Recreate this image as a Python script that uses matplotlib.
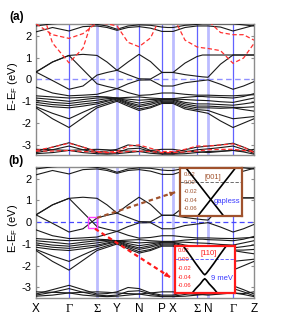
import matplotlib
matplotlib.use("Agg")
import matplotlib.pyplot as plt
from matplotlib.patches import Rectangle

plt.rcParams['font.family'] = ['Liberation Sans', 'DejaVu Sans']
plt.rcParams['axes.unicode_minus'] = False
plt.rcParams['mathtext.fontset'] = 'custom'
plt.rcParams['mathtext.rm'] = 'Liberation Sans'

# k path: high-symmetry points and the sample points between them
knodes = [0, 33, 61, 81, 103, 126, 137, 161, 172, 197, 218]
klabels = ['X', 'Γ', 'Σ', 'Y', 'N', 'P', 'X', 'Σ', 'N', 'Γ', 'Z']
kwide = [False, False, True, True, False, False, True, False, True, False, False]
kgrid = [0, 16.5, 33, 47, 61, 71, 81, 92, 103, 114.5, 126, 131.5, 137,
         149, 161, 166.5, 172, 184.5, 197, 207.5, 218]

# black bands (eV), read at kgrid
t2 = [2.45, 2.55, 2.60, 2.58, 2.52, 2.45, 2.30, 2.45, 2.50, 2.48, 2.40, 2.38, 2.38, 2.48, 2.52, 2.55, 2.55, 2.55, 2.55, 2.50, 2.45]
t1 = [2.18, 2.38, 2.22, 2.42, 2.45, 2.38, 2.25, 2.38, 2.42, 2.35, 2.20, 2.20, 2.20, 2.38, 2.45, 2.45, 2.45, 2.40, 2.22, 2.35, 2.48]
c1 = [0.34, 0.80, 1.10, 1.15, 1.10, 0.80, 0.42, 0.22, 0.03, 0.02, 0.32, 0.32, 0.32, 0.75, 1.05, 1.12, 1.12, 1.12, 1.12, 1.12, 1.12]
c2 = [0.34, 0.80, 1.10, 0.45, -0.20, -0.32, -0.42, -0.60, -0.73, -0.70, -0.62, -0.62, -0.62, -0.68, -0.72, -0.72, -0.72, -0.74, -0.75, -0.72, -0.70]
v1 = [0.34, -0.05, -0.45, -0.30, 0.20, 0.32, 0.42, 0.80, 1.15, 0.82, 0.32, 0.32, 0.32, 0.22, 0.15, 0.12, 0.10, 0.70, 1.12, 1.12, 1.12]
v2 = [-0.35, -0.62, -0.75, -0.72, -0.68, -0.55, -0.42, -0.20, -0.03, -0.02, -0.30, -0.30, -0.30, -0.15, -0.08, -0.05, -0.02, -0.22, -0.45, -0.30, -0.10]
b1 = [-0.75, -0.80, -0.85, -0.82, -0.78, -0.80, -0.85, -0.82, -0.80, -0.85, -0.88, -0.88, -0.88, -0.82, -0.78, -0.78, -0.80, -0.82, -0.85, -0.78, -0.65]
b2 = [-0.85, -0.92, -1.00, -0.92, -0.85, -0.83, -0.86, -0.90, -0.95, -0.92, -0.90, -0.90, -0.90, -0.92, -0.95, -0.96, -0.97, -1.02, -1.05, -0.95, -0.85]
b3 = [-0.95, -1.05, -1.10, -1.02, -0.95, -0.88, -0.85, -0.98, -1.08, -1.00, -0.92, -0.92, -0.92, -1.05, -1.12, -1.12, -1.12, -1.15, -1.18, -1.12, -1.05]
b4 = [-1.05, -1.15, -1.20, -1.12, -1.05, -0.95, -0.87, -1.05, -1.18, -1.08, -0.95, -0.95, -0.95, -1.12, -1.22, -1.22, -1.22, -1.25, -1.28, -1.28, -1.25]
b5 = [-1.15, -1.25, -1.30, -1.22, -1.12, -1.00, -0.90, -1.10, -1.25, -1.15, -1.00, -1.00, -1.00, -1.20, -1.30, -1.30, -1.30, -1.32, -1.30, -1.38, -1.45]
d1 = [-1.25, -1.55, -1.80, -1.50, -1.22, -1.08, -0.95, -1.15, -1.35, -1.25, -1.05, -1.05, -1.05, -1.28, -1.38, -1.40, -1.42, -1.62, -1.80, -1.75, -1.70]
d2 = [-1.30, -1.80, -2.20, -1.75, -1.30, -1.15, -1.00, -1.22, -1.42, -1.30, -1.10, -1.10, -1.10, -1.35, -1.45, -1.50, -1.55, -1.90, -2.20, -2.00, -1.80]
g1 = [-3.30, -3.10, -2.90, -3.10, -3.30, -3.28, -3.20, -3.00, -3.05, -3.25, -3.35, -3.35, -3.35, -3.22, -3.10, -3.08, -3.05, -3.00, -2.92, -3.10, -3.30]
g2 = [-3.35, -3.22, -3.05, -3.22, -3.35, -3.38, -3.35, -3.18, -3.15, -3.30, -3.40, -3.40, -3.40, -3.32, -3.22, -3.20, -3.18, -3.12, -3.05, -3.20, -3.38]
g3 = [-3.40, -3.35, -3.25, -3.35, -3.40, -3.42, -3.40, -3.35, -3.30, -3.38, -3.42, -3.42, -3.42, -3.40, -3.35, -3.32, -3.30, -3.28, -3.25, -3.32, -3.42]
g4 = [-3.20, -3.22, -3.25, -3.22, -3.20, -3.22, -3.25, -3.28, -3.30, -3.25, -3.20, -3.20, -3.20, -3.28, -3.32, -3.33, -3.35, -3.30, -3.25, -3.28, -3.20]
black_bands = [t2, t1, c1, c2, v1, v2, b1, b2, b3, b4, b5, d1, d2, g1, g2, g3, g4]

# red dashed bands of panel (a)
r_low = [4.00, 1.67, 0.76, 1.43, 3.40, 3.60, 3.60, 3.60, 3.60, 3.60, 3.60, 3.50, 2.90, 1.80, 1.49, 1.45, 1.42, 1.32, 0.74, 0.98, 1.65]
r_up = [2.55, 2.05, 1.88, 2.10, 2.60, 2.55, 2.45, 1.70, 1.50, 1.90, 3.00, 3.00, 3.00, 3.00, 3.00, 3.00, 2.70, 2.15, 2.05, 2.05, 1.80]
r_b1 = [-3.25, -3.10, -2.92, -3.10, -3.30, -3.32, -3.30, -3.05, -3.00, -3.15, -3.30, -3.30, -3.30, -3.20, -3.05, -3.05, -3.05, -3.00, -2.95, -3.10, -3.35]
r_b2 = [-3.28, -3.28, -3.25, -3.30, -3.33, -3.35, -3.35, -3.30, -3.28, -3.30, -3.35, -3.35, -3.35, -3.32, -3.28, -3.25, -3.22, -3.20, -3.20, -3.25, -3.30]
red_bands = [r_low, r_up, r_b1, r_b2]

yticks = [-3, -2, -1, 0, 1, 2]

# zoomed insets of panel (b)
in_ticks = [0.02, 0.0, -0.02, -0.04, -0.06]
in001_k = [-1.0, 1.0]
in001_a = [-0.131, 0.051]
in001_b = [0.051, -0.131]
in110_k_up = [-0.75, -0.5, -0.3, -0.15, -0.05, 0, 0.05, 0.15, 0.3, 0.5, 0.75]
in110_up = [0.034, 0.010, -0.010, -0.024, -0.033, -0.036, -0.033, -0.024, -0.010, 0.010, 0.034]
in110_k_dn = [-0.5, -0.3, -0.15, -0.05, 0, 0.05, 0.15, 0.3, 0.5]
in110_dn = [-0.085, -0.068, -0.057, -0.048, -0.045, -0.048, -0.057, -0.068, -0.085]

brown = '#a0522d'
red = '#ff1a1a'
blue = '#3a3aff'
W, H = 281, 329


def style_axes(ax):
    for s in ax.spines.values():
        s.set_color('#8c8c8c')
        s.set_linewidth(1.0)
    ax.set_xlim(knodes[0], knodes[-1])
    ax.set_ylim(-3.46, 2.54)
    ax.set_yticks(yticks)
    ax.tick_params(axis='y', direction='in', length=2.5, right=True,
                   color='#8c8c8c', labelsize=8, pad=3)
    ax.tick_params(axis='x', length=0)
    for k, wide in zip(knodes[1:-1], kwide[1:-1]):
        if wide:
            ax.axvline(k, color='#bcbcff', lw=2.0, zorder=1)
        else:
            ax.axvline(k, color='#6262ff', lw=0.9, zorder=1)


fig = plt.figure(figsize=(W / 100, H / 100), dpi=100)
ax_a = fig.add_axes([36 / W, 1 - 155 / H, 218 / W, 131 / H])
ax_b = fig.add_axes([36 / W, 1 - 297.5 / H, 218 / W, 130.5 / H])

for ax in (ax_a, ax_b):
    style_axes(ax)
    for band in black_bands:
        ax.plot(kgrid, band, color='#1a1a1a', lw=0.8, zorder=3)

ax_a.axhline(0, color='#8f8fff', lw=1.0, ls=(0, (4, 2.5)), zorder=2)
ax_b.axhline(0, color='#4848ff', lw=0.9, ls=(0, (4, 2.5)), zorder=2)
for band in red_bands:
    ax_a.plot(kgrid, band, color='#ff3030', lw=0.9, ls=(0, (3.5, 2)), zorder=4)

ax_a.set_xticks([])
ax_b.set_xticks(knodes)
ax_b.set_xticklabels(klabels, fontsize=8.5)
ax_b.tick_params(axis='x', pad=4)
for lbl in ax_b.get_xticklabels():
    if lbl.get_text() in ('Γ', 'Σ'):
        lbl.set_fontfamily('Liberation Serif')
        lbl.set_fontsize(9)

# square round the crossing and the arrows to the insets
ax_b.add_patch(Rectangle((52, -0.25), 9, 0.5, fill=False, ec='#ff40ff', lw=1.0, zorder=6))
ax_b.plot([61, 139], [0.2, 1.38], color=brown, lw=1.6, ls=(0, (2, 1.5)), zorder=6)
ax_b.annotate('', xy=(141.5, 1.42), xytext=(136, 1.33),
              arrowprops=dict(arrowstyle='-|>', color=brown, lw=1, mutation_scale=6))
ax_b.plot([59, 134], [-0.3, -2.52], color=red, lw=1.6, ls=(0, (2, 1.5)), zorder=6)
ax_b.annotate('', xy=(136, -2.6), xytext=(131, -2.44),
              arrowprops=dict(arrowstyle='-|>', color=red, lw=1, mutation_scale=6))

fig.text(17 / W, 1 - 17 / H, '(a)', fontsize=8.5, fontweight='bold', ha='center', va='center')
fig.text(16 / W, 1 - 161 / H, '(b)', fontsize=8.5, fontweight='bold', ha='center', va='center')
fig.text(13 / W, 1 - 86 / H, 'E-E$_\\mathrm{F}$ (eV)', fontsize=8, rotation=90, ha='center', va='center')
fig.text(13 / W, 1 - 228 / H, 'E-E$_\\mathrm{F}$ (eV)', fontsize=8, rotation=90, ha='center', va='center')


def style_inset(ax, color, dash_color):
    ax.set_facecolor('white')
    for s in ax.spines.values():
        s.set_color(color)
        s.set_linewidth(1.6)
    ax.set_xlim(-1, 1)
    ax.set_xticks([])
    ax.set_yticks(in_ticks)
    ax.set_yticklabels([f'{v:.2f}' for v in in_ticks])
    ax.tick_params(axis='y', direction='in', length=0, pad=-2.5,
                   labelsize=4.3, labelcolor=color)
    for lbl in ax.get_yticklabels():
        lbl.set_horizontalalignment('left')
    ax.axhline(0, color=dash_color, lw=0.6, ls=(0, (4, 2)))


ins1 = fig.add_axes([180 / W, 1 - 215.5 / H, 61.5 / W, 47.5 / H], zorder=10)
style_inset(ins1, brown, '#555555')
ins1.set_ylim(-0.077, 0.033)
ins1.plot(in001_k, in001_a, color='black', lw=1.2)
ins1.plot(in001_k, in001_b, color='black', lw=1.2)
ins1.text(0.54, 0.79, '[001]', transform=ins1.transAxes, color=brown, fontsize=5.5, ha='center', va='center')
ins1.text(0.77, 0.30, 'gapless', transform=ins1.transAxes, color=blue, fontsize=5.5, ha='center', va='center')

ins2 = fig.add_axes([174.5 / W, 1 - 292.5 / H, 60.5 / W, 46.5 / H], zorder=10)
style_inset(ins2, red, '#5050ff')
ins2.set_ylim(-0.0766, 0.030)
ins2.plot(in110_k_up, in110_up, color='black', lw=1.2)
ins2.plot(in110_k_dn, in110_dn, color='black', lw=1.2)
ins2.text(0.56, 0.83, '[110]', transform=ins2.transAxes, color=red, fontsize=5.5, ha='center', va='center')
ins2.text(0.78, 0.31, '9 meV', transform=ins2.transAxes, color=blue, fontsize=5.5, ha='center', va='center')

fig.savefig('out.png', dpi=100)
